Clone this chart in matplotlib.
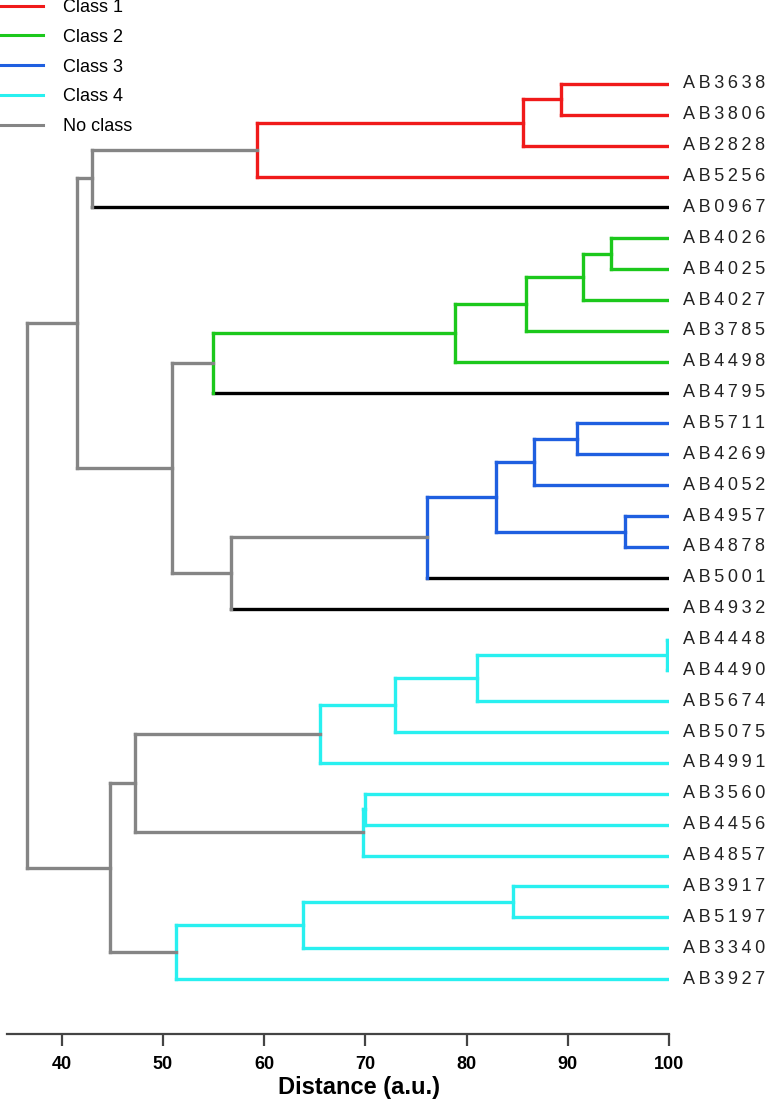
import matplotlib
matplotlib.use('Agg')
import matplotlib.pyplot as plt
from matplotlib.lines import Line2D

# leaves, top to bottom
leaf_labels = ['AB3638', 'AB3806', 'AB2828', 'AB5256', 'AB0967',
               'AB4026', 'AB4025', 'AB4027', 'AB3785', 'AB4498', 'AB4795',
               'AB5711', 'AB4269', 'AB4052', 'AB4957', 'AB4878', 'AB5001', 'AB4932',
               'AB4448', 'AB4490', 'AB5674', 'AB5075', 'AB4991',
               'AB3560', 'AB4456', 'AB4857', 'AB3917', 'AB5197', 'AB3340', 'AB3927']
leaf_class = [1, 1, 1, 1, 0,
              2, 2, 2, 2, 2, 0,
              3, 3, 3, 3, 3, 0, 0,
              4, 4, 4, 4, 4,
              4, 4, 4, 4, 4, 4, 4]

# merges: children (leaf index or 30 + merge index), distance, class of the link
merge_left = [0, 30, 31, 32, 5, 34, 35, 36, 37, 11, 39, 14, 40, 42, 43, 38, 33,
              18, 47, 48, 49, 23, 51, 50, 26, 54, 55, 53, 46]
merge_right = [1, 2, 3, 4, 6, 7, 8, 9, 10, 12, 13, 15, 41, 16, 17, 44, 45,
               19, 20, 21, 22, 24, 25, 52, 27, 28, 29, 56, 57]
merge_height = [89.3, 85.55, 59.3, 43.0, 94.3, 91.5, 85.9, 78.9, 55.0, 90.9, 86.7, 95.7, 82.9, 76.1, 56.7, 50.9, 41.5,
                99.8, 81.0, 72.9, 65.5, 70.0, 69.8, 47.2, 84.6, 63.8, 51.3, 44.8, 36.6]
merge_class = [1, 1, 1, 0, 2, 2, 2, 2, 2, 3, 3, 3, 3, 3, 0, 0, 0,
               4, 4, 4, 4, 4, 4, 0, 4, 4, 4, 0, 0]

class_names = ['Class 1', 'Class 2', 'Class 3', 'Class 4', 'No class']
class_colors = {1: '#f01a1a', 2: '#1cc81c', 3: '#1f5fe0', 4: '#28f0f0', 0: '#858585'}
leaf_end = 100

plt.rcParams['font.family'] = ['Liberation Sans', 'DejaVu Sans']

fig = plt.figure(figsize=(7.66, 11.04), dpi=100)
ax = fig.add_axes([7 / 766, 70 / 1104, 662 / 766, 1034 / 1104])

n = len(leaf_labels)
ypos = list(range(n))
xpos = [leaf_end] * n
for l, r, h in zip(merge_left, merge_right, merge_height):
    ypos.append((ypos[l] + ypos[r]) / 2)
    xpos.append(h)

lw = 2.4
for l, r, h, c in zip(merge_left, merge_right, merge_height, merge_class):
    col = class_colors[c]
    for child in (l, r):
        if child < n:
            ccol = class_colors[leaf_class[child]] if leaf_class[child] else 'black'
        else:
            ccol = col
        ax.plot([h, xpos[child]], [ypos[child], ypos[child]], color=ccol, lw=lw)
    ax.plot([h, h], [ypos[l], ypos[r]], color=col, lw=lw)

spaced = ['\u2009'.join(s) for s in leaf_labels]
for i, s in enumerate(spaced):
    ax.annotate(s, xy=(leaf_end, i), xytext=(10, 0), textcoords='offset points',
                va='center', ha='left', fontsize=13, color='#222222', annotation_clip=False)

ax.set_xlim(34.6, 100)
ax.set_ylim(30.78, -2.72)
for side in ['top', 'right', 'left']:
    ax.spines[side].set_visible(False)
ax.spines['bottom'].set_color('#444444')
ax.spines['bottom'].set_linewidth(1.6)
ax.set_yticks([])
ax.set_xticks([40, 50, 60, 70, 80, 90, 100])
ax.tick_params(axis='x', length=8.5, width=1.6, color='#444444', pad=7.5, labelsize=13)
for t in ax.get_xticklabels():
    t.set_fontweight('bold')
ax.set_xlabel('Distance (a.u.)', fontsize=17, fontweight='bold', labelpad=6)
ax.xaxis.set_label_coords(352 / 662, -42 / 1034)

handles = [Line2D([], [], color=class_colors[k], lw=2.2) for k in [1, 2, 3, 4, 0]]
fig.legend(handles, class_names, loc='upper left', bbox_to_anchor=(0, 1.001),
           frameon=False, fontsize=13, borderpad=0, borderaxespad=0,
           handlelength=2.4, handletextpad=1.1, labelspacing=0.71)

fig.savefig('out.png', dpi=100)
